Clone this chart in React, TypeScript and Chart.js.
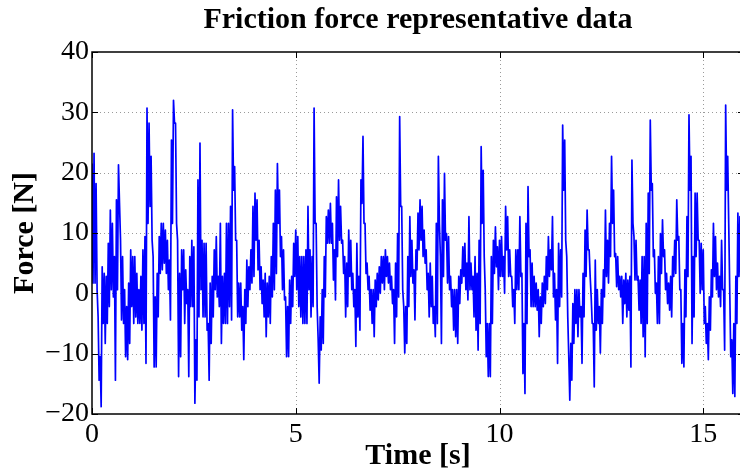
import React, { useEffect, useRef } from "react";
import { Chart, registerables } from "chart.js";

Chart.register(...registerables);

// Sample spacing of the recorded signal (seconds)
const SAMPLE_STEP = 0.025;

// Friction force [N] (pairs of local high / low per 0.05 s)
const force0to4 = [
  21.5, 1.7, 23.2, 1.7, 18.2, 0.6, -3.9, -14.4, -10.5, -18.8, 4.4, -5.0, 3.3, -8.3, 2.8, -5.0, 8.3, -2.2, 13.8, 0.6,
  11.6, -0.6, 6.1, -14.4, 15.5, 0.6, 21.3, 14.9, 8.8, -4.4, 6.1, -5.0, 0.6, -10.5, -2.2, -11.0, 1.7, -8.3, 7.2, -2.2,
  6.1, -5.0, 6.1, -3.9, 3.3, -5.0, 0.6, -5.0, 2.8, -6.1, 7.2, -5.0, 9.4, -11.6, 30.7, 11.6, 28.2, 14.4, 22.7, 8.8,
  6.1, -12.2, -0.6, -12.2, 3.3, -3.9, 9.4, 3.3, 11.6, 3.9, 11.6, 5.0, 10.5, 3.3, 8.8, 0.6, 5.5, -4.4, 25.4, 11.6,
  32.0, 28.2, 28.2, 11.6, 8.8, -13.8, 3.3, -10.5, 7.2, 0.6, 7.2, -5.0, 3.9, -1.7, 0.6, -13.8, 6.1, -2.2, 8.8, -2.2,
  7.7, -18.2, -7.7, -14.4, 18.8, -3.9, 24.9, 0.6, 8.8, -3.9, 8.3, -3.9, 8.3, -6.1, -5.0, -14.4, 1.7, -8.3, 2.8, -3.9,
  7.2, 0.6, 9.4, -0.6, 2.8, -2.2, 11.6, -8.3, 2.8, -5.0, 3.3, -5.0, 11.6, -5.0, 11.6, -2.2, 14.4, -4.4, 30.4, 17.1,
  21.0, 8.8, 8.8, -3.9, 1.7, -3.9, 1.7, -6.1, -2.2, -11.0, 0.6, -5.0, 5.5, -2.2, 4.4, 0.6, 7.2, 1.7, 14.4, 2.8,
];

const force4to8 = [
  16.6, 8.8, 15.5, 3.9, 8.8, 0.6, 4.4, -1.7, 2.2, -3.9, 3.3, -7.2, 1.7, -3.9, 2.8, -5.0, 6.1, -0.6, 11.6, 0.6,
  17.1, 3.3, 21.5, 11.6, 17.1, 6.1, 9.4, 0.6, 7.2, -1.1, -0.6, -10.5, -2.2, -10.5, 2.2, -5.0, 2.8, -2.2, 8.3, 2.8,
  10.5, 0.6, 9.4, -2.2, 6.1, -3.9, 6.1, -5.0, 6.1, -5.0, 7.2, -5.0, 14.4, 0.6, 7.2, -3.9, 6.1, -2.2, 30.7, 11.6,
  11.6, -2.2, -7.7, -14.9, -3.9, -9.4, 0.6, -8.3, 6.1, -0.6, 12.7, 8.3, 13.8, 8.3, 14.9, 8.3, 11.6, 2.2, 7.2, -1.1,
  16.0, 6.1, 18.8, 8.8, 14.4, 8.3, 8.8, 3.3, 6.1, -3.9, 5.0, -2.2, 10.5, 2.8, 8.8, 0.6, 3.3, -2.2, 0.6, -8.8,
  8.3, -3.9, 2.8, -6.1, 18.8, 14.9, 26.0, 11.6, 11.6, 3.3, 5.0, 0.6, 2.8, -2.8, 0.6, -5.0, 0.6, -7.2, 2.2, -2.2,
  3.3, -1.1, 4.4, 0.0, 6.1, 1.7, 6.1, 0.6, 7.2, 2.8, 6.1, 1.7, 5.0, 0.6, 2.8, -1.7, 0.6, -8.3, 5.0, -3.9,
  9.9, -0.6, 29.3, 14.4, 14.4, 0.6, -2.2, -9.9, -2.2, -8.3, 6.1, -2.2, 12.7, 2.8, 8.8, 1.7, 3.9, -4.4, 7.2, 3.9,
];

const force8to12 = [
  13.3, 7.2, 15.5, 8.8, 14.4, 6.1, 10.5, 5.0, 7.2, 0.6, 3.3, -3.9, 5.0, -2.2, 2.8, -5.0, -2.2, -7.2, 11.6, -5.0,
  22.7, 11.6, 6.1, -8.3, 15.5, 2.8, 19.9, 8.8, 9.9, 1.7, 9.4, 0.6, 2.8, -2.2, 0.6, -6.1, 0.6, -7.2, 0.6, -8.3,
  2.8, -1.7, 3.9, 1.7, 7.7, 2.8, 8.3, 0.6, 5.0, -1.1, 12.7, 0.6, 5.0, 0.6, 2.8, -3.9, 6.1, -6.1, 3.3, -9.4,
  8.8, -5.0, 24.3, 11.6, 20.4, 6.1, 0.6, -10.5, -5.0, -13.8, -5.0, -13.8, 6.1, -5.0, 8.8, 3.3, 11.0, 4.4, 7.7, 0.6,
  8.8, 2.8, 9.4, 2.8, 6.1, 0.0, 14.4, 7.2, 12.7, 2.8, 7.2, 2.8, 2.8, -2.2, 0.6, -5.0, 7.2, 0.6, 7.2, 0.6,
  12.7, 2.8, 3.3, -13.3, -5.0, -16.6, 11.6, -5.0, 17.7, 6.1, 7.2, -2.2, 5.0, -2.2, 2.8, -2.2, 1.7, -2.8, 0.6, -7.2,
  -0.6, -5.0, 1.7, -2.2, 2.8, -1.7, 6.1, 0.6, 9.4, 2.8, 7.2, 3.9, 12.7, -0.6, 3.3, -4.4, 0.6, -11.6, 8.3, -2.2,
  7.2, -0.6, 27.9, 17.1, 25.4, 8.8, 6.1, -3.9, -10.5, -17.7, -8.3, -14.4, -1.7, -8.3, 0.6, -5.0, 0.6, -7.2, 0.6, -3.9,
];

const force12to16 = [
  -2.2, -11.6, 3.3, -3.9, 10.5, 2.8, 13.8, 7.2, 7.2, 2.8, -0.6, -5.0, -5.0, -15.5, 5.5, -6.1, 0.6, -5.0, -2.2, -9.9,
  0.6, -5.0, 3.9, -0.6, 13.8, 2.8, 8.8, 1.7, 11.6, 6.1, 22.7, 11.6, 17.1, 6.1, 6.6, 1.1, 6.1, 0.6, 2.8, -0.6,
  2.8, -5.0, 2.2, -1.7, 3.3, -3.9, 2.2, -2.8, 2.8, -12.2, 22.1, 11.6, 9.4, 2.2, 8.8, 2.2, 2.8, -2.8, 2.2, -5.0,
  6.1, -7.2, 6.1, -10.5, 11.6, -5.0, 16.6, 3.3, 28.7, 17.1, 18.2, 6.1, 7.2, 0.0, 1.7, -5.0, 6.1, -5.0, 9.9, 3.3,
  12.2, 6.1, 7.2, 0.6, 3.3, -1.7, 1.7, -2.8, 2.8, -3.9, 6.1, 2.8, 8.8, 3.3, 15.5, 8.8, 9.4, 0.6, 0.6, -11.6,
  -5.0, -12.2, 3.9, -3.9, 12.7, 2.8, 29.6, 17.1, 22.7, -8.3, 6.1, -3.9, 16.6, 6.1, 16.6, 8.8, 8.8, 0.0, 8.3, 0.6,
  7.2, -5.0, -2.2, -8.3, -5.0, -11.0, -0.6, -6.1, 3.9, -0.6, 11.6, 2.8, 9.4, 0.6, 5.0, -0.6, 2.8, -2.2, 8.8, 0.6,
  0.6, -9.4, 31.2, 17.1, 22.7, 11.6, 0.6, -10.5, -7.7, -16.6, -5.0, -17.1, 2.8, -5.0, 13.3, 2.8, 12.7, 0.6, 9.4, -1.7,
];

const xTicks = [0, 5, 10, 15];
const yTicks = [-20, -10, 0, 10, 20, 30, 40];
const X_MIN = 0;
const X_MAX = 16;
const Y_MIN = -20;
const Y_MAX = 40;

const TITLE = "Friction force representative data";
const X_LABEL = "Time [s]";
const Y_LABEL = "Force [N]";

const FONT = "'Liberation Serif', 'Times New Roman', Times, serif";

const framePlugin = {
  id: "matlabFrame",
  beforeDatasetsDraw(chart: any) {
    const { ctx, chartArea, scales } = chart;
    const { left, right, top, bottom } = chartArea;
    ctx.save();
    ctx.strokeStyle = "#9a9a9a";
    ctx.lineWidth = 1;
    ctx.setLineDash([1, 3]);
    for (const v of xTicks) {
      if (v === X_MIN || v === X_MAX) continue;
      const px = Math.round(scales.x.getPixelForValue(v)) + 0.5;
      ctx.beginPath();
      ctx.moveTo(px, top);
      ctx.lineTo(px, bottom);
      ctx.stroke();
    }
    for (const v of yTicks) {
      if (v === Y_MIN || v === Y_MAX) continue;
      const py = Math.round(scales.y.getPixelForValue(v)) + 0.5;
      ctx.beginPath();
      ctx.moveTo(left, py);
      ctx.lineTo(right, py);
      ctx.stroke();
    }
    ctx.restore();
  },
  afterDatasetsDraw(chart: any) {
    const { ctx, chartArea, scales } = chart;
    const { left, right, top, bottom } = chartArea;
    const tl = 6;
    ctx.save();
    ctx.strokeStyle = "#000";
    ctx.lineWidth = 1.5;
    ctx.setLineDash([]);
    ctx.strokeRect(left, top, right - left, bottom - top);
    ctx.lineWidth = 1;
    for (const v of xTicks) {
      const px = Math.round(scales.x.getPixelForValue(v)) + 0.5;
      ctx.beginPath();
      ctx.moveTo(px, bottom);
      ctx.lineTo(px, bottom - tl);
      ctx.moveTo(px, top);
      ctx.lineTo(px, top + tl);
      ctx.stroke();
    }
    for (const v of yTicks) {
      const py = Math.round(scales.y.getPixelForValue(v)) + 0.5;
      ctx.beginPath();
      ctx.moveTo(left, py);
      ctx.lineTo(left + tl, py);
      ctx.moveTo(right, py);
      ctx.lineTo(right - tl, py);
      ctx.stroke();
    }
    ctx.restore();
  },
};

export default function App() {
  const canvasRef = useRef<HTMLCanvasElement | null>(null);

  useEffect(() => {
    const canvas = canvasRef.current;
    if (!canvas) return;
    const values = [...force0to4, ...force4to8, ...force8to12, ...force12to16];
    const points = values.map((v, i) => ({ x: i * SAMPLE_STEP, y: v }));

    const chart = new Chart(canvas, {
      type: "line",
      data: {
        datasets: [
          {
            data: points,
            borderColor: "#0000ff",
            borderWidth: 1.7,
            borderJoinStyle: "round",
            pointRadius: 0,
            tension: 0,
            fill: false,
          },
        ],
      },
      options: {
        responsive: false,
        maintainAspectRatio: false,
        animation: false,
        devicePixelRatio: 1,
        parsing: false,
        normalized: true,
        layout: { padding: { left: 0, right: 6, top: 0, bottom: 0 } },
        plugins: {
          legend: { display: false },
          tooltip: { enabled: false },
          title: {
            display: true,
            text: TITLE,
            fullSize: false,
            color: "#000",
            font: { family: FONT, size: 30, weight: "bold", lineHeight: 1 },
            padding: { top: 5, bottom: 17 },
          },
        },
        scales: {
          x: {
            type: "linear",
            min: X_MIN,
            max: X_MAX,
            grid: { display: false, drawTicks: false },
            border: { display: false },
            afterBuildTicks: (scale: any) => {
              scale.ticks = xTicks.map((v) => ({ value: v }));
            },
            afterFit: (scale: any) => {
              scale.height = 60;
            },
            ticks: {
              color: "#000",
              font: { family: FONT, size: 28 },
              padding: 4,
              maxRotation: 0,
              autoSkip: false,
              callback: (v: any) => String(v),
            },
            title: {
              display: true,
              text: X_LABEL,
              color: "#000",
              font: { family: FONT, size: 30, weight: "bold", lineHeight: 1 },
              padding: { top: 0, bottom: 3 },
            },
          },
          y: {
            type: "linear",
            min: Y_MIN,
            max: Y_MAX,
            grid: { display: false, drawTicks: false },
            border: { display: false },
            afterBuildTicks: (scale: any) => {
              scale.ticks = yTicks.map((v) => ({ value: v }));
            },
            afterFit: (scale: any) => {
              scale.width = 92;
            },
            ticks: {
              color: "#000",
              font: { family: FONT, size: 28 },
              padding: 3,
              autoSkip: false,
              callback: (v: any) => (v < 0 ? "\u2212" + Math.abs(v) : String(v)),
            },
            title: {
              display: true,
              text: Y_LABEL,
              color: "#000",
              font: { family: FONT, size: 30, weight: "bold", lineHeight: 1 },
              padding: { top: 10, bottom: 0 },
            },
          },
        },
      },
      plugins: [framePlugin],
    } as any);

    return () => chart.destroy();
  }, []);

  return (
    <div
      style={{
        position: "fixed",
        left: 0,
        top: 0,
        width: 740,
        height: 474,
        overflow: "hidden",
        background: "#fff",
      }}
    >
      <canvas ref={canvasRef} width={750} height={474} style={{ display: "block" }} />
    </div>
  );
}
